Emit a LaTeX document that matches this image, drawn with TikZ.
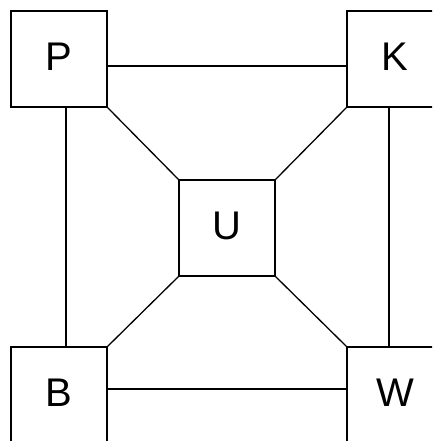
\documentclass[tikz,border=0pt]{standalone}
\usepackage{fontspec}
\setmainfont{Liberation Sans}
\usepackage{tikz}
\usetikzlibrary{calc}

\tikzset{
    box/.style={draw, rectangle, minimum size=96pt, inner sep=0pt, font=\fontsize{40}{44}\selectfont},
    link/.style={line width=1.3pt}
}

\begin{document}
\begin{tikzpicture}[x=1pt,y=-1pt,line width=1.3pt]
        \useasboundingbox (0,0) rectangle (435,441);
        \clip (0,0) rectangle (432,441);
        \foreach \n/\x/\y in {P/59/59, K/395/59, B/59/395, W/395/395, U/227/228}
            \node[box] (\n) at (\x,\y) {\raisebox{4pt}{\n}};
        % outer frame
        \draw[link] ([yshift=-7pt]P.east) -- ([yshift=-7pt]P.east -| K.west);
        \draw[link] ([xshift=7pt]P.south) -- ([xshift=7pt]P.south |- B.north);
        \draw[link] ([xshift=-6pt]K.south) -- ([xshift=-6pt]K.south |- W.north);
        \draw[link] ([yshift=6pt]B.east) -- ([yshift=6pt]B.east -| W.west);
        % corners to centre
        \draw[link] (P.south east) -- (U.north west);
        \draw[link] (K.south west) -- (U.north east);
        \draw[link] (B.north east) -- (U.south west);
        \draw[link] (W.north west) -- (U.south east);
    \end{tikzpicture}
\end{document}
